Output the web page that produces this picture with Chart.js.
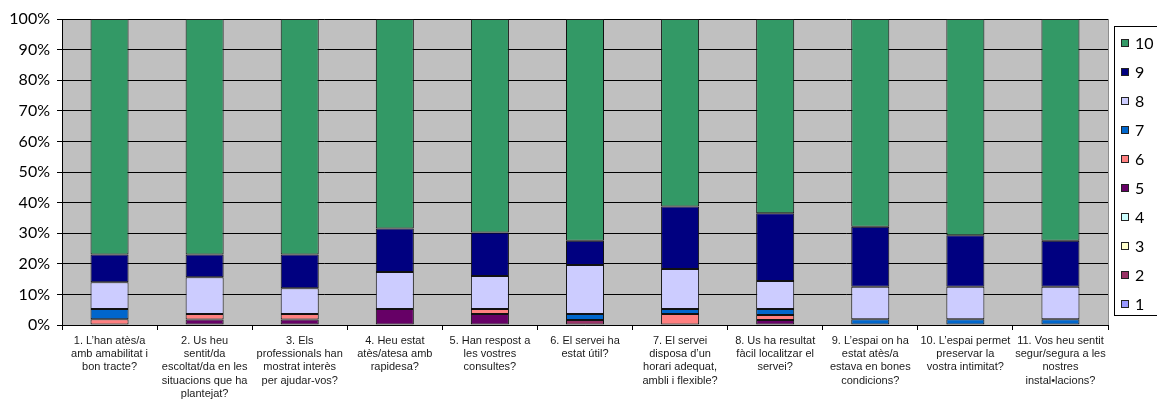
<!DOCTYPE html>
<html>
<head>
<meta charset="utf-8">
<script src="https://cdn.jsdelivr.net/npm/chart.js@4.4.1/dist/chart.umd.min.js"></script>
<style>
  html, body { margin: 0; padding: 0; background: #ffffff; }
  #wrap { width: 1157px; height: 404px; position: relative; }
</style>
</head>
<body>
<div id="wrap"><canvas id="c" width="1157" height="404"></canvas></div>
<script>
// Survey questions (x axis), one array of lines per question
const questions = [
  ["1. L’han atès/a", "amb amabilitat i", "bon tracte?"],
  ["2. Us heu", "sentit/da", "escoltat/da en les", "situacions que ha", "plantejat?"],
  ["3. Els", "professionals han", "mostrat interès", "per ajudar-vos?"],
  ["4. Heu estat", "atès/atesa amb", "rapidesa?"],
  ["5. Han respost a", "les vostres", "consultes?"],
  ["6. El servei ha", "estat útil?"],
  ["7. El servei", "disposa d’un", "horari adequat,", "ambli i flexible?"],
  ["8. Us ha resultat", "fàcil localitzar el", "servei?"],
  ["9. L’espai on ha", "estat atès/a", "estava en bones", "condicions?"],
  ["10. L’espai permet", "preservar la", "vostra intimitat?"],
  ["11. Vos heu sentit", "segur/segura a les", "nostres", "instal•lacions?"]
];

// Share of answers (%) for each score, per question
const score1  = [0, 0, 0, 0, 0, 0, 0, 0, 0, 0, 0];
const score2  = [0, 0, 0, 0, 0, 1.6, 0, 0, 0, 0, 0];
const score3  = [0, 0, 0, 0, 0, 0, 0, 0, 0, 0, 0];
const score4  = [0, 0, 0, 0, 0, 0, 0, 0, 0, 0, 0];
const score5  = [0, 1.8, 1.8, 5.2, 3.6, 0, 0, 1.6, 0, 0, 0];
const score6  = [1.9, 1.8, 1.8, 0, 1.6, 0, 3.6, 1.7, 0, 0, 0];
const score7  = [3.3, 0, 0, 0, 0, 2.0, 1.6, 1.9, 1.9, 1.9, 1.9];
const score8  = [8.8, 12.0, 8.4, 12.1, 10.8, 16.0, 13.1, 9.2, 10.6, 10.6, 10.6];
const score9  = [9.0, 7.4, 11.0, 14.2, 14.2, 7.9, 20.4, 22.1, 19.6, 16.8, 15.0];
const score10 = [77.0, 77.0, 77.0, 68.5, 69.8, 72.5, 61.3, 63.5, 67.9, 70.7, 72.5];

const scoreNames = ["1", "2", "3", "4", "5", "6", "7", "8", "9", "10"];
const scoreSeries = [score1, score2, score3, score4, score5, score6, score7, score8, score9, score10];
const scoreColors = ["#9999FF", "#993366", "#FFFFCC", "#CCFFFF", "#660066",
                     "#FF8080", "#0066CC", "#CCCCFF", "#000080", "#339966"];

const yTicks = [0, 10, 20, 30, 40, 50, 60, 70, 80, 90, 100];

const datasets = scoreSeries.map((vals, i) => ({
  label: scoreNames[i],
  data: vals,
  backgroundColor: scoreColors[i],
  borderColor: "#111111",
  borderWidth: 1,
  borderSkipped: false,
  barPercentage: 0.4,
  categoryPercentage: 1.0
}));

// Grey plot background
const plotBackground = {
  id: "plotBackground",
  beforeDraw(chart) {
    const { ctx, chartArea: a } = chart;
    ctx.save();
    ctx.fillStyle = "#C0C0C0";
    ctx.fillRect(a.left, a.top, a.right - a.left, a.bottom - a.top);
    ctx.strokeStyle = "#8c8c8c";
    ctx.lineWidth = 1;
    ctx.beginPath();
    ctx.moveTo(a.right + 0.5, a.top);
    ctx.lineTo(a.right + 0.5, a.bottom);
    ctx.stroke();
    ctx.restore();
  }
};

// Boxed legend on the right, highest score first
const boxedLegend = {
  id: "boxedLegend",
  afterDraw(chart) {
    const { ctx } = chart;
    const left = 1114.5, top = 26.5, bottom = 315.5;
    ctx.save();
    ctx.strokeStyle = "#000000";
    ctx.lineWidth = 1;
    ctx.strokeRect(left, top, 80, bottom - top);
    ctx.font = "16px Lato";
    ctx.textBaseline = "middle";
    ctx.textAlign = "left";
    const n = chart.data.datasets.length;
    for (let k = 0; k < n; k++) {
      const ds = chart.data.datasets[n - 1 - k];
      const cy = 42.5 + k * 29.0;
      const sy = Math.round(cy - 4);
      ctx.fillStyle = ds.backgroundColor;
      ctx.fillRect(1121, sy, 7, 7);
      ctx.strokeStyle = "#222222";
      ctx.strokeRect(1121.5, sy + 0.5, 7, 7);
      ctx.fillStyle = "#000000";
      ctx.fillText(ds.label, 1135, cy + 1.5);
    }
    ctx.restore();
  }
};

new Chart(document.getElementById("c"), {
  type: "bar",
  data: { labels: questions, datasets },
  options: {
    responsive: false,
    animation: false,
    layout: { padding: { left: 0, right: 49, top: 19, bottom: 0 } },
    plugins: {
      legend: { display: false },
      tooltip: { enabled: false }
    },
    scales: {
      x: {
        stacked: true,
        offset: true,
        grid: {
          display: true,
          offset: true,
          drawOnChartArea: false,
          drawTicks: true,
          tickLength: 5,
          color: "#000000",
          lineWidth: 1
        },
        border: { display: true, color: "#000000", width: 1 },
        ticks: {
          autoSkip: false,
          maxRotation: 0,
          minRotation: 0,
          padding: 4,
          color: "#1a1a1a",
          font: { family: "Liberation Sans", size: 11, lineHeight: 1.21 }
        },
        afterFit(scale) { scale.height = 79; }
      },
      y: {
        stacked: true,
        min: 0,
        max: 100,
        afterBuildTicks(scale) { scale.ticks = yTicks.map(v => ({ value: v })); },
        grid: {
          color: "#000000",
          lineWidth: 1,
          drawTicks: true,
          tickLength: 5
        },
        border: { display: true, color: "#000000", width: 1 },
        ticks: {
          padding: 7,
          color: "#000000",
          font: { family: "Lato", size: 16 },
          callback: v => v + "%"
        },
        afterFit(scale) { scale.width = 62; }
      }
    }
  },
  plugins: [plotBackground, boxedLegend]
});
</script>
</body>
</html>
